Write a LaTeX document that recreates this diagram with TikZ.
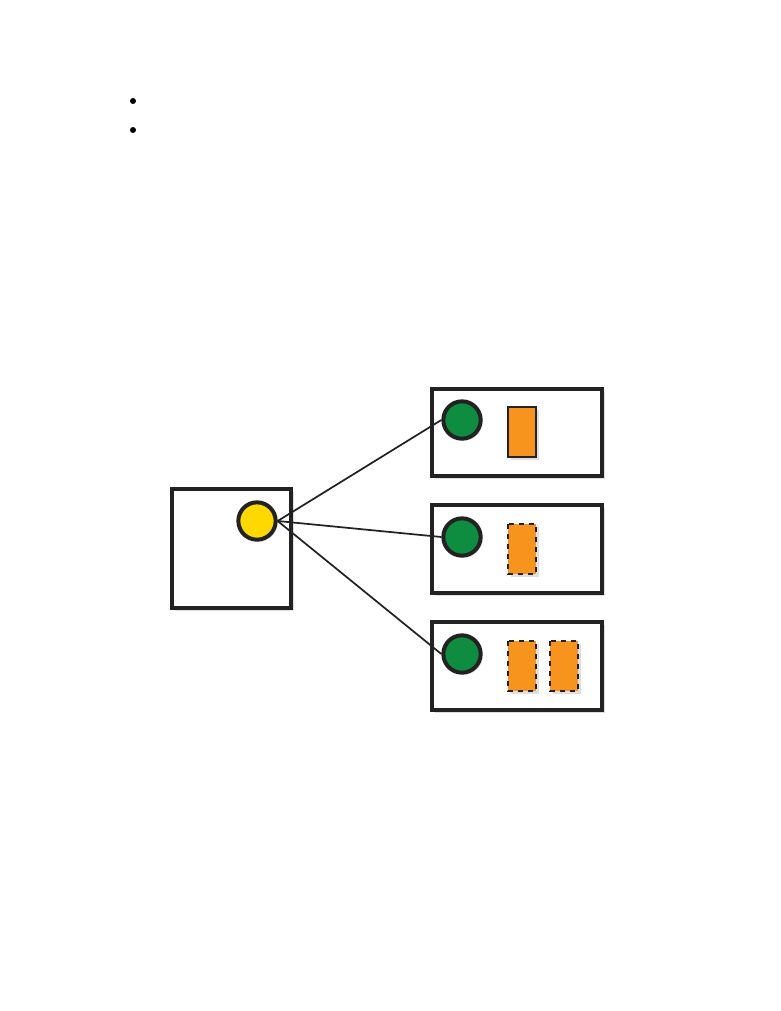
\documentclass[tikz,border=0pt]{standalone}
\usetikzlibrary{shadows}
\definecolor{dgreen}{HTML}{0E8C3F}
\definecolor{dyellow}{HTML}{FFD800}
\definecolor{dorange}{HTML}{F7941D}
\definecolor{dink}{HTML}{222222}
\tikzset{
  box/.style={draw=dink, line width=3.3pt, fill=white, drop shadow={shadow xshift=2pt, shadow yshift=-2pt, opacity=0.25}},
  ball/.style={circle, draw=dink, line width=3pt, inner sep=0pt, minimum size=28pt, drop shadow={shadow xshift=1.5pt, shadow yshift=-1.5pt, opacity=0.2}},
  slot/.style={draw=dink, line width=1.5pt, fill=dorange, drop shadow={shadow xshift=2pt, shadow yshift=-2pt, opacity=0.25}},
  dslot/.style={slot, dash pattern=on 4pt off 3.5pt},
  link/.style={draw=dink, line width=1.3pt}
}
\begin{document}
\begin{tikzpicture}[x=0.75pt,y=-0.75pt]
\useasboundingbox (0,0) rectangle (781,1011);
\fill[black] (133,101) circle (3);
\fill[black] (133,130) circle (3);
% boxes
\draw[box] (172,489) rectangle (291,608);
\draw[box] (432,389) rectangle (602,476);
\draw[box] (432,505) rectangle (602,593);
\draw[box] (432,622) rectangle (602,710);
% slots
\draw[slot] (508,407) rectangle (536,457);
\draw[dslot] (508,524) rectangle (536,574);
\draw[dslot] (508,641) rectangle (536,691);
\draw[dslot] (550,641) rectangle (578,691);
% links (drawn under balls)
\coordinate (yc) at (257,521);
\node[ball, fill=dyellow] (y) at (yc) {};
\node[ball, fill=dgreen] (g1) at (462,420) {};
\node[ball, fill=dgreen] (g2) at (462,537) {};
\node[ball, fill=dgreen] (g3) at (462,654) {};
\draw[link] (y.east) -- (g1.west);
\draw[link] (y.east) -- (g2.west);
\draw[link] (y.east) -- (g3.west);
\end{tikzpicture}
\end{document}
